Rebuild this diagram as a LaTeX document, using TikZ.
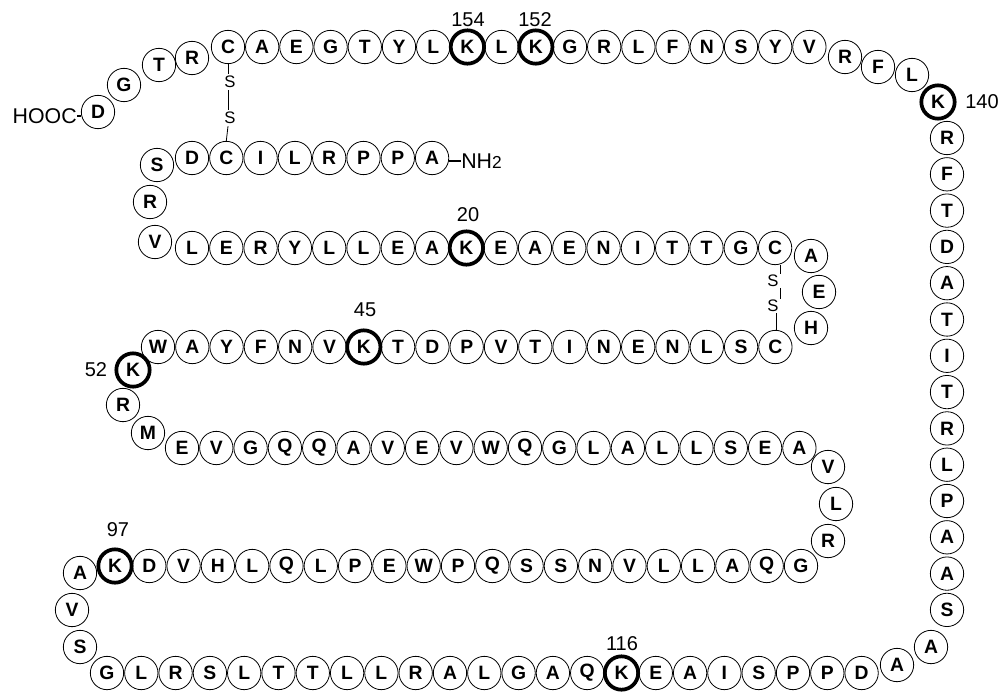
\documentclass[tikz,border=0pt]{standalone}
\usepackage{fontspec}
\setmainfont{Liberation Sans}
\begin{document}
\begin{tikzpicture}[x=0.75pt,y=-0.75pt,
  aa/.style={circle,draw,line width=0.6pt,minimum size=25pt,inner sep=0pt,font=\fontsize{14.5}{14.5}\selectfont\bfseries},
  kk/.style={aa,line width=2.8pt},
  lab/.style={font=\fontsize{15}{15}\selectfont,inner sep=0pt},
  ss/.style={font=\fontsize{12.5}{12.5}\selectfont,inner sep=1.5pt},
  bond/.style={line width=0.6pt},
  termdash/.style={line width=1.6pt}]
\useasboundingbox (0,0) rectangle (1003,693);
% top row
\foreach \l/\s [count=\i from 0] in {C/aa,A/aa,E/aa,G/aa,T/aa,Y/aa,L/aa,K/kk,L/aa,K/kk,G/aa,R/aa,L/aa,F/aa,N/aa,S/aa,Y/aa,V/aa}
  \node[\s] (t\i) at ({228+34.2*\i},47) {\l};
\node[aa] (tr1) at (845,57) {R};
\node[aa] (tr2) at (878,67) {F};
\node[aa] (tr3) at (912,75) {L};
\node[kk] (k140) at (938,102) {K};
% right column
\foreach \l [count=\i from 0] in {R,F,T,D,A,T,I,T,R,L,P,A,A,S}
  \node[aa] (rc\i) at (947,{138+36.3*\i}) {\l};
\node[aa] (br1) at (931,647) {A};
\node[aa] (br2) at (897,665) {A};
% bottom row
\foreach \l/\s [count=\i from 0] in {G/aa,L/aa,R/aa,S/aa,L/aa,T/aa,T/aa,L/aa,L/aa,R/aa,A/aa,L/aa,G/aa,A/aa,Q/aa,K/kk,E/aa,A/aa,I/aa,S/aa,P/aa,P/aa,D/aa}
  \node[\s] (b\i) at ({107+34.3*\i},673) {\l};
\node[aa] (bl1) at (80,647) {S};
\node[aa] (bl2) at (72,610) {V};
\node[aa] (bl3) at (80,573) {A};
% row 97
\foreach \l/\s [count=\i from 0] in {K/kk,D/aa,V/aa,H/aa,L/aa,Q/aa,L/aa,P/aa,E/aa,W/aa,P/aa,Q/aa,S/aa,S/aa,N/aa,V/aa,L/aa,L/aa,A/aa,Q/aa,G/aa}
  \node[\s] (r\i) at ({115+34.3*\i},566) {\l};
\node[aa] (rt1) at (828,541) {R};
\node[aa] (rt2) at (836,504) {L};
\node[aa] (rt3) at (828,467) {V};
% row E
\foreach \l [count=\i from 0] in {E,V,G,Q,Q,A,V,E,V,W,Q,G,L,A,L,L,S,E,A}
  \node[aa] (e\i) at ({182+34.3*\i},448) {\l};
\node[aa] (lm) at (148,433) {M};
\node[aa] (lr) at (123,405) {R};
\node[kk] (k52) at (133,370) {K};
% row W
\foreach \l/\s [count=\i from 0] in {W/aa,A/aa,Y/aa,F/aa,N/aa,V/aa,K/kk,T/aa,D/aa,P/aa,V/aa,T/aa,I/aa,N/aa,E/aa,N/aa,L/aa,S/aa,C/aa}
  \node[\s] (w\i) at ({158+34.3*\i},347) {\l};
\node[aa] (mh) at (811,328) {H};
\node[aa] (me) at (819,292) {E};
\node[aa] (ma) at (811,256) {A};
% row L
\foreach \l/\s [count=\i from 0] in {L/aa,E/aa,R/aa,Y/aa,L/aa,L/aa,E/aa,A/aa,K/kk,E/aa,A/aa,E/aa,N/aa,I/aa,T/aa,T/aa,G/aa,C/aa}
  \node[\s] (l\i) at ({192+34.3*\i},248) {\l};
\node[aa] (lv) at (155,242) {V};
\node[aa] (lr2) at (150,202) {R};
\node[aa] (ls) at (157,165) {S};
% row D (N-terminal)
\foreach \l [count=\i from 0] in {D,C,I,L,R,P,P,A}
  \node[aa] (d\i) at ({192+34.3*\i},158) {\l};
% top-left
\node[aa] (c1) at (192,58) {R};
\node[aa] (c2) at (159,65) {T};
\node[aa] (c3) at (124,85) {G};
\node[aa] (c4) at (98,112) {D};
% termini
\node[lab,anchor=east,font=\fontsize{16}{16}\selectfont] (hooc) at (77,116) {HOOC};
\draw[termdash] (hooc.east) -- (hooc.east -| c4.west);
\node[lab,anchor=west,font=\fontsize{16}{16}\selectfont] (nh) at (461,161) {NH{\fontsize{13}{13}\selectfont 2}};
\draw[termdash] (d7.east |- nh.west) -- (nh.west);
% labels
\node[lab] (n154) at (468,20) {154};
\node[lab] (n152) at (535,20) {152};
\node[lab] (n140) at (982,102) {140};
\node[lab] (n20) at (468,215) {20};
\node[lab] (n45) at (365,310) {45};
\node[lab] (n52) at (96,370) {52};
\node[lab] (n97) at (118,530) {97};
\node[lab] (n116) at (622,644) {116};
% disulfide left
\node[ss] (s1) at (230,82) {S};
\node[ss] (s2) at (230,118) {S};
\draw[bond] (t0.south) -- (t0.south |- s1.north);
\draw[bond] (t0 |- s1.south) -- (t0 |- s2.north);
\draw[bond] (t0 |- s2.south) -- (d1.north);
% disulfide right
\node[ss] (s3) at (773,281) {S};
\node[ss] (s4) at (773,306) {S};
\coordinate (dr) at ([xshift=3.75pt]l17.center);
\draw[bond] (dr |- l17.south) -- ([yshift=-1pt]dr |- s3.north);
\draw[bond] ([yshift=1pt]dr |- s3.south) -- ([yshift=-1pt]dr |- s4.north);
\draw[bond] ([xshift=1pt]w18.north) -- ([xshift=1pt,yshift=1pt]w18.north |- s4.south);
\end{tikzpicture}
\end{document}
